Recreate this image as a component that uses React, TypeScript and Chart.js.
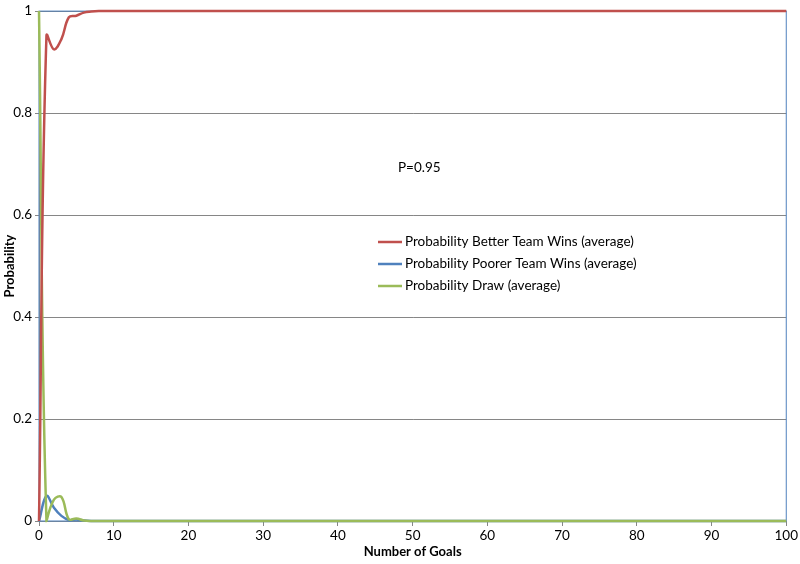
import React, { useEffect, useRef } from "react";
import { Chart, registerables } from "chart.js";

Chart.register(...registerables);

const goals = [
    0, 1, 2, 3, 4, 5, 6, 7, 8, 9,
    10, 11, 12, 13, 14, 15, 16, 17, 18, 19,
    20, 21, 22, 23, 24, 25, 26, 27, 28, 29,
    30, 31, 32, 33, 34, 35, 36, 37, 38, 39,
    40, 41, 42, 43, 44, 45, 46, 47, 48, 49,
    50, 51, 52, 53, 54, 55, 56, 57, 58, 59,
    60, 61, 62, 63, 64, 65, 66, 67, 68, 69,
    70, 71, 72, 73, 74, 75, 76, 77, 78, 79,
    80, 81, 82, 83, 84, 85, 86, 87, 88, 89,
    90, 91, 92, 93, 94, 95, 96, 97, 98, 99,
    100,
];

const betterWins = [
    0, 0.952, 0.925, 0.945, 0.988, 0.991, 0.997, 0.999, 1, 1,
    1, 1, 1, 1, 1, 1, 1, 1, 1, 1,
    1, 1, 1, 1, 1, 1, 1, 1, 1, 1,
    1, 1, 1, 1, 1, 1, 1, 1, 1, 1,
    1, 1, 1, 1, 1, 1, 1, 1, 1, 1,
    1, 1, 1, 1, 1, 1, 1, 1, 1, 1,
    1, 1, 1, 1, 1, 1, 1, 1, 1, 1,
    1, 1, 1, 1, 1, 1, 1, 1, 1, 1,
    1, 1, 1, 1, 1, 1, 1, 1, 1, 1,
    1, 1, 1, 1, 1, 1, 1, 1, 1, 1,
    1,
];

const poorerWins = [
    0, 0.049, 0.026, 0.01, 0.002, 0.003, 0.001, 0, 0, 0,
    0, 0, 0, 0, 0, 0, 0, 0, 0, 0,
    0, 0, 0, 0, 0, 0, 0, 0, 0, 0,
    0, 0, 0, 0, 0, 0, 0, 0, 0, 0,
    0, 0, 0, 0, 0, 0, 0, 0, 0, 0,
    0, 0, 0, 0, 0, 0, 0, 0, 0, 0,
    0, 0, 0, 0, 0, 0, 0, 0, 0, 0,
    0, 0, 0, 0, 0, 0, 0, 0, 0, 0,
    0, 0, 0, 0, 0, 0, 0, 0, 0, 0,
    0, 0, 0, 0, 0, 0, 0, 0, 0, 0,
    0,
];

const draw = [
    1, 0, 0.042, 0.047, 0.003, 0.005, 0.001, 0, 0, 0,
    0, 0, 0, 0, 0, 0, 0, 0, 0, 0,
    0, 0, 0, 0, 0, 0, 0, 0, 0, 0,
    0, 0, 0, 0, 0, 0, 0, 0, 0, 0,
    0, 0, 0, 0, 0, 0, 0, 0, 0, 0,
    0, 0, 0, 0, 0, 0, 0, 0, 0, 0,
    0, 0, 0, 0, 0, 0, 0, 0, 0, 0,
    0, 0, 0, 0, 0, 0, 0, 0, 0, 0,
    0, 0, 0, 0, 0, 0, 0, 0, 0, 0,
    0, 0, 0, 0, 0, 0, 0, 0, 0, 0,
    0,
];

const seriesNames = [
    "Probability Better Team Wins (average)",
    "Probability Poorer Team Wins (average)",
    "Probability Draw (average)",
];
const annotation = "P=0.95";

const FONT = "Lato, 'Open Sans', sans-serif";
const GRID = "#868686";
const BORDER_BLUE = "#4F81BD";

// blue frame round the plot area, drawn under the lines
const framePlugin = {
    id: "frame",
    beforeDatasetsDraw(chart: Chart) {
        const { ctx, chartArea } = chart;
        ctx.save();
        ctx.strokeStyle = BORDER_BLUE;
        ctx.lineWidth = 1;
        ctx.strokeRect(chartArea.left, chartArea.top, chartArea.right - chartArea.left, chartArea.bottom - chartArea.top);
        ctx.restore();
    },
};

// legend and label inside the plot area
const innerLegendPlugin = {
    id: "innerLegend",
    afterDraw(chart: Chart) {
        const { ctx } = chart;
        ctx.save();
        ctx.font = `13.5px ${FONT}`;
        ctx.fillStyle = "#000";
        ctx.textBaseline = "middle";
        ctx.textAlign = "left";
        ctx.fillText(annotation, 398, 168);
        chart.data.datasets.forEach((ds, i) => {
            const y = 242 + i * 22;
            ctx.strokeStyle = ds.borderColor as string;
            ctx.lineWidth = 2.5;
            ctx.beginPath();
            ctx.moveTo(378, y);
            ctx.lineTo(402, y);
            ctx.stroke();
            ctx.fillText(ds.label ?? "", 405, y);
        });
        ctx.restore();
    },
};

const App: React.FC = () => {
    const canvasRef = useRef<HTMLCanvasElement | null>(null);

    useEffect(() => {
        if (!canvasRef.current) return;
        const toPoints = (vals: number[]) => goals.map((g, i) => ({ x: g, y: vals[i] }));
        const line = (label: string, color: string, vals: number[], order: number) => ({
            label,
            data: toPoints(vals),
            borderColor: color,
            backgroundColor: color,
            borderWidth: 2.5,
            pointRadius: 0,
            tension: 0.4,
            clip: 4,
            order,
        });

        const chart = new Chart(canvasRef.current, {
            type: "line",
            data: {
                datasets: [
                    line(seriesNames[0], "#C0504D", betterWins, 0),
                    line(seriesNames[1], "#4F81BD", poorerWins, 2),
                    line(seriesNames[2], "#9BBB59", draw, 1),
                ],
            },
            options: {
                responsive: true,
                maintainAspectRatio: false,
                animation: false,
                layout: { padding: { top: 8, right: 12, bottom: 0, left: 0 } },
                plugins: {
                    legend: { display: false },
                    tooltip: { enabled: false },
                },
                scales: {
                    x: {
                        type: "linear",
                        min: 0,
                        max: 100,
                        ticks: { stepSize: 10, color: "#000", font: { family: FONT, size: 13.5 }, padding: 2 },
                        grid: { drawOnChartArea: false, color: GRID, tickLength: 5 },
                        border: { color: GRID },
                        title: {
                            display: true,
                            text: "Number of Goals",
                            color: "#000",
                            font: { family: FONT, size: 13, weight: "bold" },
                            padding: { top: 0, bottom: 4 },
                        },
                        afterFit(scale: any) {
                            scale.height = 43;
                        },
                    },
                    y: {
                        min: 0,
                        max: 1,
                        ticks: {
                            stepSize: 0.2,
                            color: "#000",
                            font: { family: FONT, size: 13.5 },
                            padding: 3,
                            callback: (v: number | string) => String(parseFloat(Number(v).toFixed(2))),
                        },
                        grid: { color: GRID, tickLength: 4 },
                        border: { color: GRID },
                        title: {
                            display: true,
                            text: "Probability",
                            color: "#000",
                            font: { family: FONT, size: 13, weight: "bold" },
                            padding: { top: 2, bottom: 0 },
                        },
                        afterFit(scale: any) {
                            scale.width = 39;
                        },
                    },
                },
            },
            plugins: [framePlugin, innerLegendPlugin],
        });

        return () => {
            chart.destroy();
        };
    }, []);

    return (
        <div style={{ position: "fixed", left: 0, top: 0, width: 800, height: 564, background: "#fff" }}>
            <canvas ref={canvasRef} />
        </div>
    );
};

export default App;
